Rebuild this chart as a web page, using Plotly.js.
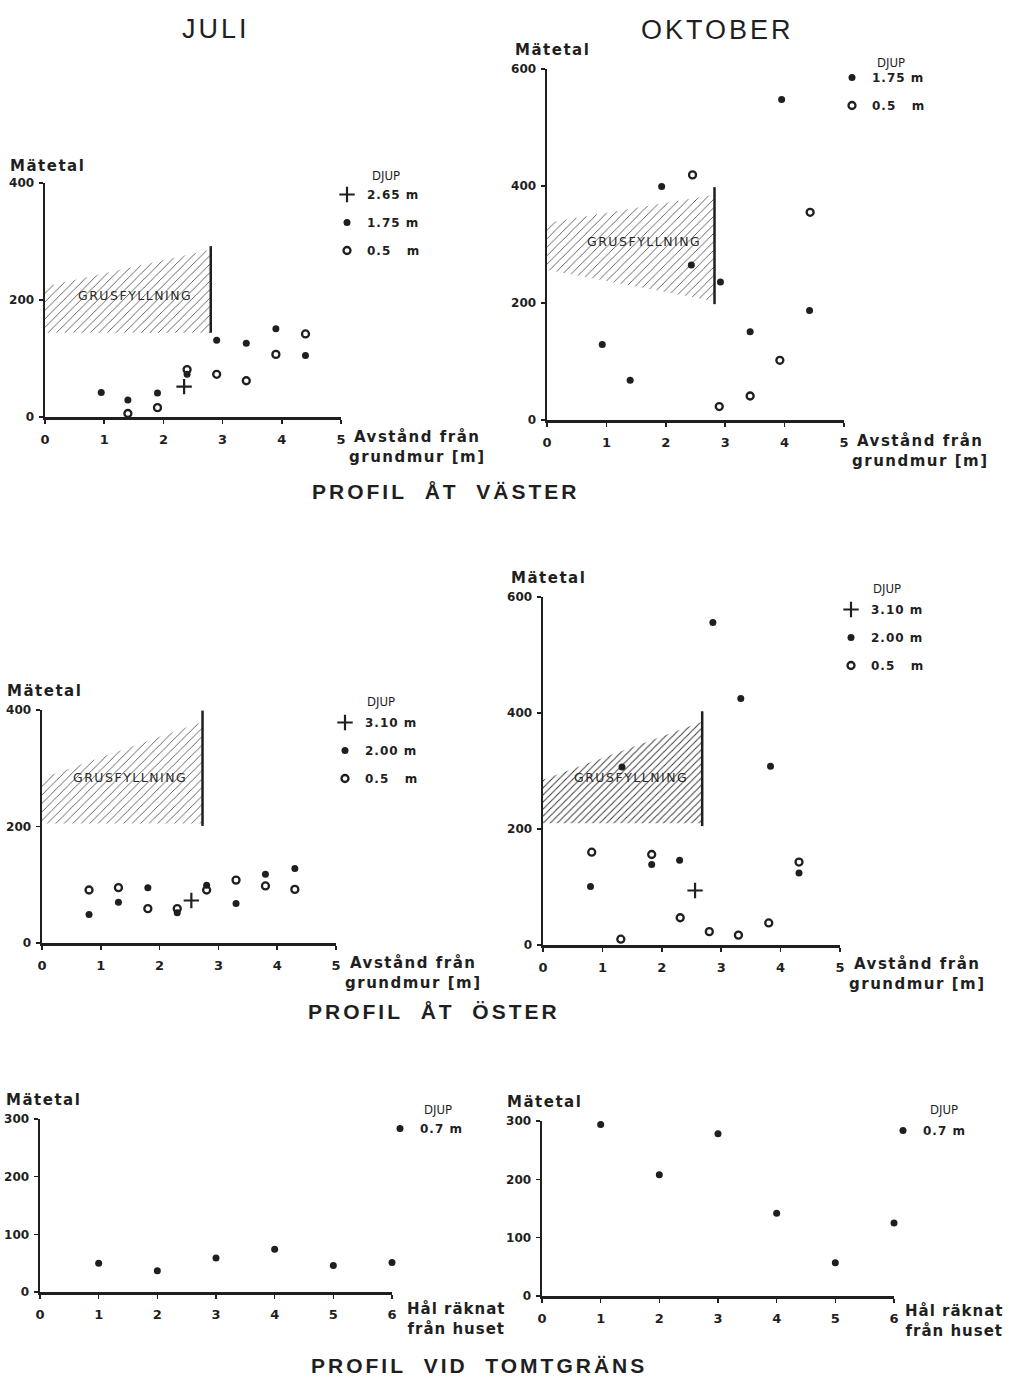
<!DOCTYPE html>
<html><head><meta charset="utf-8">
<script src="https://cdn.plot.ly/plotly-3.0.1.min.js"></script>
<style>html,body{margin:0;padding:0;background:#fff}#chart{width:1009px;height:1380px}</style>
</head><body><div id="chart"></div>
<script>
// ---------- DATA ----------
// Tick labels
const distTicks = [0, 1, 2, 3, 4, 5];
const holeTicks = [0, 1, 2, 3, 4, 5, 6];
const yTicks400 = [0, 200, 400];
const yTicks600 = [0, 200, 400, 600];
const yTicks300 = [0, 100, 200, 300];

// Profil åt väster, juli
const vJulDeepX = [2.35];            const vJulDeepY = [52];                 // 2.65 m
const vJulMidX  = [0.95, 1.4, 1.9, 2.4, 2.9, 3.4, 3.9, 4.4];
const vJulMidY  = [42, 29, 41, 73, 131, 126, 151, 105];                      // 1.75 m
const vJulTopX  = [1.4, 1.9, 2.4, 2.9, 3.4, 3.9, 4.4];
const vJulTopY  = [6, 16, 81, 73, 62, 107, 142];                             // 0.5 m
const vJulFillX = [0, 2.8, 2.8, 0];  const vJulFillY = [144, 144, 286, 223]; // grusfyllning
const vJulWallX = [2.8, 2.8];        const vJulWallY = [144, 292];

// Profil åt väster, oktober
const vOktMidX = [0.93, 1.4, 1.93, 2.43, 2.92, 3.42, 3.95, 4.42];
const vOktMidY = [129, 68, 399, 265, 236, 151, 548, 187];                    // 1.75 m
const vOktTopX = [2.45, 2.9, 3.42, 3.92, 4.43];
const vOktTopY = [419, 23, 41, 102, 355];                                    // 0.5 m
const vOktFillX = [0, 2.82, 2.82, 0]; const vOktFillY = [257, 203, 385, 337];
const vOktWallX = [2.82, 2.82];       const vOktWallY = [198, 398];

// Profil åt öster, juli
const oJulDeepX = [2.54];            const oJulDeepY = [73];                 // 3.10 m
const oJulMidX  = [0.8, 1.3, 1.8, 2.3, 2.8, 3.3, 3.8, 4.3];
const oJulMidY  = [49, 70, 95, 52, 99, 68, 118, 128];                        // 2.00 m
const oJulTopX  = [0.8, 1.3, 1.8, 2.3, 2.8, 3.3, 3.8, 4.3];
const oJulTopY  = [91, 95, 59, 59, 91, 108, 98, 92];                         // 0.5 m
const oJulFillX = [0, 2.73, 2.73, 0]; const oJulFillY = [205, 205, 380, 283];
const oJulWallX = [2.73, 2.73];       const oJulWallY = [201, 399];

// Profil åt öster, oktober
const oOktDeepX = [2.56];            const oOktDeepY = [94];                 // 3.10 m
const oOktMidX  = [0.8, 1.33, 1.83, 2.3, 2.86, 3.33, 3.83, 4.31];
const oOktMidY  = [101, 307, 139, 146, 556, 425, 308, 124];                  // 2.00 m
const oOktTopX  = [0.82, 1.31, 1.83, 2.31, 2.8, 3.29, 3.8, 4.31];
const oOktTopY  = [160, 10, 156, 47, 23, 17, 38, 143];                       // 0.5 m
const oOktFillX = [0, 2.68, 2.68, 0]; const oOktFillY = [210, 210, 385, 285];
const oOktWallX = [2.68, 2.68];       const oOktWallY = [205, 403];

// Profil vid tomtgräns (djup 0.7 m)
const holes = [1, 2, 3, 4, 5, 6];
const tJulY = [50, 37, 59, 74, 46, 51];
const tOktY = [294, 208, 278, 142, 57, 125];

// ---------- STYLE ----------
const W = 1009, H = 1380;
const px = v => v / W, py = v => 1 - v / H;
const INK = '#1f1f1f';
const F_BOLD = "'DejaVu Sans', 'Liberation Sans', sans-serif";
const F_COND = "'DejaVu Sans Condensed', 'DejaVu Sans', sans-serif";
const F_TITLE = "'Liberation Sans', Arial, sans-serif";
const sp = (t, ls) => `<span style="letter-spacing:${ls}px">${t}</span>`;
const nb = s => s.replace(/ /g, '\u00A0');

const mDot  = {symbol: 'circle', size: 7, color: INK};
const mRing = {symbol: 'circle-open', size: 7, color: INK, line: {width: 2.3, color: INK}};
const mPlus = {symbol: 'cross-thin-open', size: 11, color: INK, line: {width: 2.2, color: INK}};

function pts(x, y, ax, marker, name, legend, grp, show) {
  return {type: 'scatter', mode: 'markers', x, y, xaxis: 'x' + ax, yaxis: 'y' + ax,
    marker, name: sp(nb(name), 1), legend, legendgroup: legend + grp,
    showlegend: show !== false, cliponaxis: false, hoverinfo: 'x+y'};
}
function hatch(x, y, ax, dense) {
  return {type: 'scatter', mode: 'lines', x, y, xaxis: 'x' + ax, yaxis: 'y' + ax,
    fill: 'toself', fillcolor: 'rgba(255,255,255,0)', line: {width: 0, color: 'rgba(0,0,0,0)'},
    fillpattern: {shape: '/', fgcolor: '#3a3a3a', bgcolor: 'rgba(255,255,255,0)', size: dense ? 5 : 6, solidity: dense ? 0.2 : 0.13},
    showlegend: false, hoverinfo: 'skip'};
}
function wall(x, y, ax) {
  return {type: 'scatter', mode: 'lines', x, y, xaxis: 'x' + ax, yaxis: 'y' + ax,
    line: {width: 2.5, color: INK}, showlegend: false, hoverinfo: 'skip', cliponaxis: false};
}

const traces = [
  hatch(vJulFillX, vJulFillY, '', false), wall(vJulWallX, vJulWallY, ''),
  pts(vJulDeepX, vJulDeepY, '', mPlus, '2.65 m', 'legend', 'a'),
  pts(vJulMidX, vJulMidY, '', mDot, '1.75 m', 'legend', 'b'),
  pts(vJulTopX, vJulTopY, '', mRing, '0.5   m', 'legend', 'c'),

  hatch(vOktFillX, vOktFillY, '2', false), wall(vOktWallX, vOktWallY, '2'),
  pts(vOktMidX, vOktMidY, '2', mDot, '1.75 m', 'legend2', 'b'),
  pts(vOktTopX, vOktTopY, '2', mRing, '0.5   m', 'legend2', 'c'),

  hatch(oJulFillX, oJulFillY, '3', false), wall(oJulWallX, oJulWallY, '3'),
  pts(oJulDeepX, oJulDeepY, '3', mPlus, '3.10 m', 'legend3', 'a'),
  pts(oJulMidX, oJulMidY, '3', mDot, '2.00 m', 'legend3', 'b'),
  pts(oJulTopX, oJulTopY, '3', mRing, '0.5   m', 'legend3', 'c'),

  hatch(oOktFillX, oOktFillY, '4', true), wall(oOktWallX, oOktWallY, '4'),
  pts(oOktDeepX, oOktDeepY, '4', mPlus, '3.10 m', 'legend4', 'a'),
  pts(oOktMidX, oOktMidY, '4', mDot, '2.00 m', 'legend4', 'b'),
  pts(oOktTopX, oOktTopY, '4', mRing, '0.5   m', 'legend4', 'c'),

  pts(holes, tJulY, '5', mDot, '0.7 m', 'legend5', 'a'),
  pts(holes, tOktY, '6', mDot, '0.7 m', 'legend6', 'a'),
];

function xAx(x0, x1, ticks, anchor) {
  return {domain: [px(x0), px(x1)], anchor, range: [0, ticks[ticks.length - 1]],
    tickmode: 'array', tickvals: ticks, ticktext: ticks.map(String),
    ticks: 'outside', ticklen: 4, tickwidth: 1.5, tickcolor: INK,
    showline: true, linewidth: 2.5, linecolor: INK, showgrid: false, zeroline: false,
    tickfont: {family: F_BOLD, size: 13, color: INK, weight: 'bold'}, ticklabelstandoff: 5, fixedrange: true};
}
function yAx(y0, y1, ticks, anchor) {
  return {domain: [py(y1), py(y0)], anchor, range: [0, ticks[ticks.length - 1]],
    tickmode: 'array', tickvals: ticks, ticktext: ticks.map(String),
    ticks: 'outside', ticklen: 4, tickwidth: 1.5, tickcolor: INK,
    showline: true, linewidth: 2.5, linecolor: INK, showgrid: false, zeroline: false,
    tickfont: {family: F_BOLD, size: 12, color: INK, weight: 'bold'}, ticklabelstandoff: 2, fixedrange: true};
}
function leg(left, top) {
  return {x: px(left), y: py(top), xanchor: 'left', yanchor: 'top', bgcolor: 'rgba(0,0,0,0)',
    borderwidth: 0, itemwidth: 30, tracegroupgap: 9, traceorder: 'grouped',
    font: {family: F_BOLD, size: 12, color: INK, weight: 'bold'}, itemclick: false, itemdoubleclick: false};
}

const ann = [];
function txt(t, x, y, size, opts) {
  ann.push(Object.assign({text: t, x: px(x), y: py(y), xref: 'paper', yref: 'paper', showarrow: false,
    xanchor: 'left', yanchor: 'middle', font: {family: F_BOLD, size, color: INK, weight: 'bold'}}, opts || {}));
}
// Column titles
txt(sp('JULI', 3), 216, 29, 27, {xanchor: 'center', font: {family: F_TITLE, size: 27, color: INK}});
txt(sp('OKTOBER', 3), 717, 30, 27, {xanchor: 'center', font: {family: F_TITLE, size: 27, color: INK}});
// Section titles
const secFont = {family: F_TITLE, size: 21, color: INK, weight: 'bold'};
txt(sp(nb('PROFIL  ÅT  VÄSTER'), 3), 446, 491, 21, {xanchor: 'center', font: secFont});
txt(sp(nb('PROFIL  ÅT  ÖSTER'), 3), 434, 1012, 21, {xanchor: 'center', font: secFont});
txt(sp(nb('PROFIL  VID  TOMTGRÄNS'), 3), 479, 1365, 21, {xanchor: 'center', font: secFont});
// Y titles
[[8, 166], [513, 50], [5, 691], [509, 578], [4, 1100], [505, 1102]].forEach(p =>
  txt(sp('Mätetal', 1.5), p[0], p[1], 15));
// X titles
const xt1 = sp('Avstånd från', 1.5) + '<br>' + sp('grundmur [m]', 1.5);
const xt2 = sp('Hål räknat', 1) + '<br>' + sp('från huset', 1);
[[417, 447], [920, 451], [413, 973], [917, 974]].forEach(p =>
  txt(xt1, p[0], p[1], 15, {xanchor: 'center', align: 'center'}));
txt(xt2, 456, 1319, 15, {xanchor: 'center', align: 'center'});
txt(xt2, 1006, 1321, 15, {xanchor: 'right', align: 'center'});
// DJUP headers
[[370, 176], [875, 62], [365, 701], [871, 589], [422, 1109], [928, 1109]].forEach(p =>
  txt('DJUP', p[0], p[1], 12, {font: {family: F_COND, size: 13, color: INK}}));
// GRUSFYLLNING labels (in data coordinates)
[['', 1.52, 207], ['2', 1.63, 305], ['3', 1.5, 284], ['4', 1.48, 288]].forEach(p =>
  ann.push({text: sp('GRUSFYLLNING', 1.5), x: p[1], y: p[2], xref: 'x' + p[0], yref: 'y' + p[0],
    showarrow: false, xanchor: 'center', yanchor: 'middle',
    font: {family: "'DejaVu Sans', sans-serif", size: 12.5, color: '#2a2a2a'}}));

const layout = {
  width: W, height: H, margin: {l: 0, r: 0, t: 0, b: 0},
  paper_bgcolor: '#ffffff', plot_bgcolor: 'rgba(0,0,0,0)', showlegend: true,
  xaxis:  xAx(45, 341, distTicks, 'y'),   yaxis:  yAx(183, 417, yTicks400, 'x'),
  xaxis2: xAx(547, 844, distTicks, 'y2'), yaxis2: yAx(69, 420, yTicks600, 'x2'),
  xaxis3: xAx(42, 336, distTicks, 'y3'),  yaxis3: yAx(710, 943, yTicks400, 'x3'),
  xaxis4: xAx(543, 840, distTicks, 'y4'), yaxis4: yAx(597, 945, yTicks600, 'x4'),
  xaxis5: xAx(40, 392, holeTicks, 'y5'),  yaxis5: yAx(1119, 1292, yTicks300, 'x5'),
  xaxis6: xAx(542, 894, holeTicks, 'y6'), yaxis6: yAx(1121, 1296, yTicks300, 'x6'),
  legend: leg(327, 180), legend2: leg(832, 63), legend3: leg(325, 708),
  legend4: leg(831, 595), legend5: leg(380, 1114), legend6: leg(883, 1116),
  annotations: ann,
};
Plotly.newPlot('chart', traces, layout, {staticPlot: true, displayModeBar: false});
</script></body></html>
